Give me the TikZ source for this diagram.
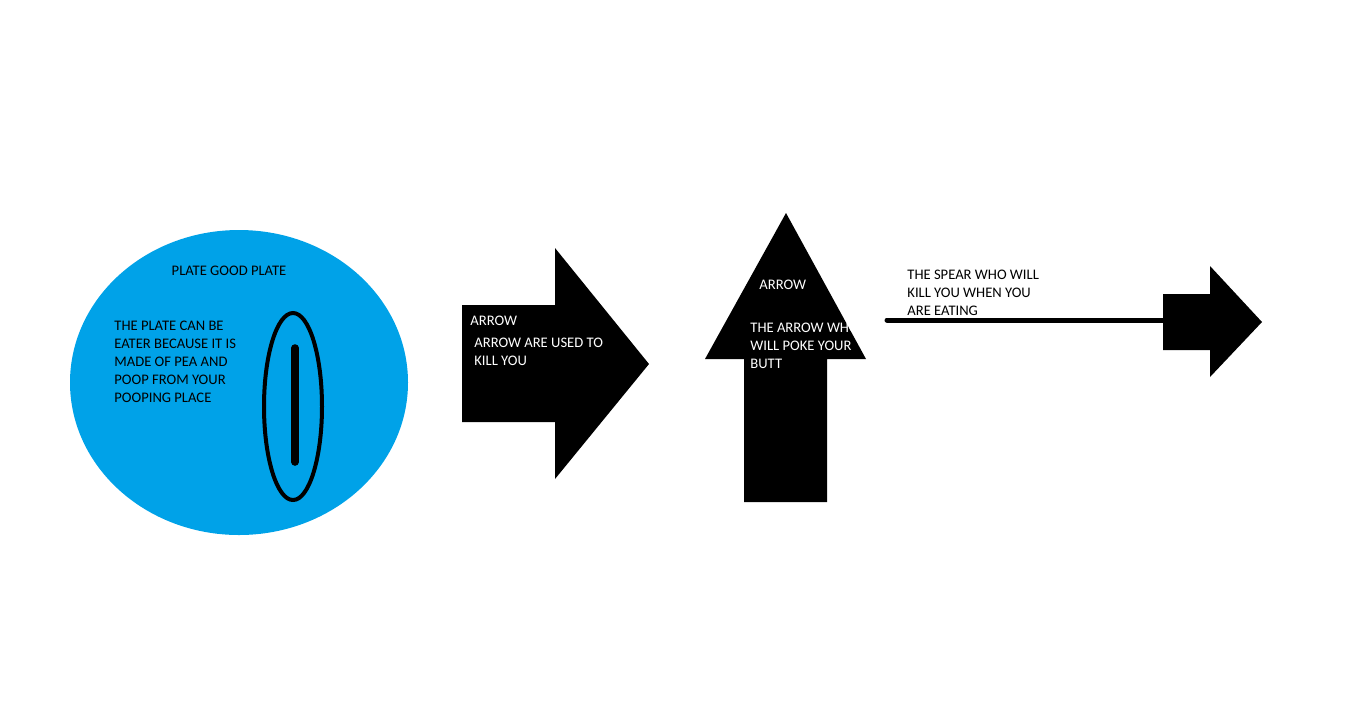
\documentclass[tikz,border=0pt]{standalone}
\usepackage{fontspec}
\setmainfont{Carlito}
\usepackage{tikz}
\definecolor{platecolor}{RGB}{0,162,232}

\begin{document}
\begin{tikzpicture}[x=0.5pt, y=-0.5pt,
            txt/.style={font=\fontsize{7.3}{9}\selectfont, inner sep=0pt, anchor=north west, align=left},
            whitetxt/.style={txt, text=white},
            arrowshape/.style={fill=black}
        ]
            \useasboundingbox (0,0) rectangle (1360,703);

            % plate
            \fill[platecolor] (239,382.5) ellipse [x radius=169, y radius=152.5];
            \draw[line width=2pt] (293,406.5) ellipse [x radius=29, y radius=93.5];
            \draw[line width=3.8pt, line cap=round] (295,348) -- (295,462);
            \node[txt, anchor=center] (platetitle) at (229,271) {PLATE GOOD PLATE};
            \node[txt] (platetext) at (114,321) {THE PLATE CAN BE\\EATER BECAUSE IT IS\\MADE OF PEA AND\\POOP FROM YOUR\\POOPING PLACE};

            % right arrow
            \fill[arrowshape] (462,305) -- (555,305) -- (555,248) -- (649,364) -- (555,479) -- (555,422) -- (462,422) -- cycle;
            \node[whitetxt] (rightname) at (470,316) {ARROW};
            \node[whitetxt] (righttext) at (474,338) {ARROW ARE USED TO\\KILL YOU};

            % up arrow
            \fill[arrowshape] (744,502) -- (744,359) -- (705,359) -- (786,213) -- (866,359) -- (827,359) -- (827,502) -- cycle;
            \node[whitetxt] (upname) at (759,280) {ARROW};
            \node[whitetxt] (uptext) at (750,323) {THE ARROW WHO\\WILL POKE YOUR\\BUTT};

            % spear
            \draw[line width=2.5pt, line cap=round] (887,320) -- (1165,320);
            \fill[arrowshape] (1163,294) -- (1210,294) -- (1210,266) -- (1262,322) -- (1210,377) -- (1210,350) -- (1163,350) -- cycle;
            \node[txt] (speartext) at (907,270) {THE SPEAR WHO WILL\\KILL YOU WHEN YOU\\ARE EATING};
        \end{tikzpicture}
\end{document}
